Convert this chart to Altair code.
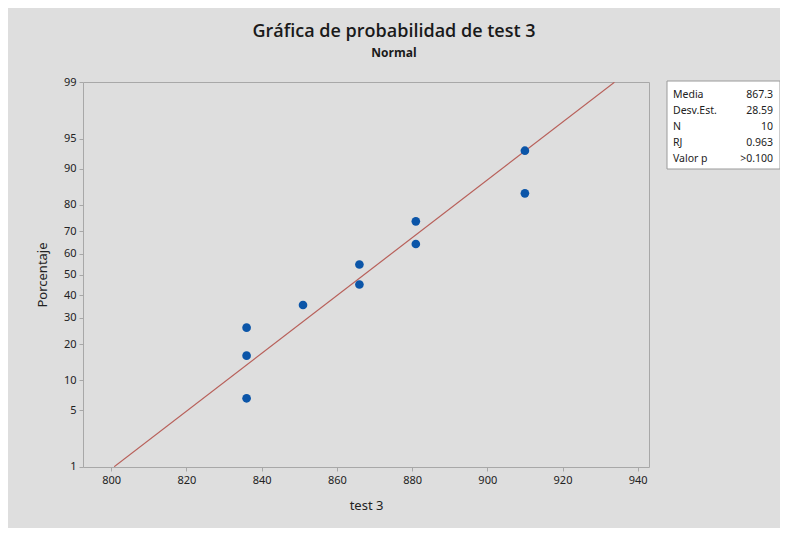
import altair as alt
import pandas as pd
from statistics import NormalDist

# ---- data ----
values = [836, 836, 836, 851, 866, 866, 881, 881, 910, 910]
percent = [6.7, 16.3, 26.0, 35.6, 45.2, 54.8, 64.4, 74.0, 83.7, 93.3]
fit_x = [800.8, 933.8]
fit_pct = [1, 99]
y_ticks = [1, 5, 10, 20, 30, 40, 50, 60, 70, 80, 90, 95, 99]
x_ticks = [800, 820, 840, 860, 880, 900, 920, 940]
stat_names = ["Media", "Desv.Est.", "N", "RJ", "Valor p"]
stat_values = ["867.3", "28.59", "10", "0.963", ">0.100"]

nd = NormalDist()
ytick_z = [nd.inv_cdf(p / 100) for p in y_ticks]
zmin, zmax = nd.inv_cdf(0.0099), nd.inv_cdf(0.9901)

pts = pd.DataFrame({"x": values, "p": percent})
fit = pd.DataFrame({"x": fit_x, "p": fit_pct})
box = pd.DataFrame({"names": ["\n".join(stat_names)], "vals": ["\n".join(stat_values)]})

FONT = "Noto Sans"
xscale = alt.Scale(domain=[792.5, 943], nice=False, zero=False)
yscale = alt.Scale(domain=[zmin, zmax], nice=False, zero=False)

xaxis = alt.Axis(values=x_ticks, tickCount=20, title="test 3", grid=False, domain=False,
                 tickColor="#a8a8a8", tickSize=4, labelPadding=3,
                 labelFont=FONT, labelFontSize=11, labelColor="#222222",
                 titleFont=FONT, titleFontSize=13, titleFontWeight="normal",
                 titleColor="#222222", titlePadding=14)
yaxis = alt.Axis(values=ytick_z, tickCount=30, title="Porcentaje", grid=False, domain=False,
                 labelExpr="format(cumulativeNormal(datum.value) * 100, '.0f')",
                 labelOverlap=False, labelBound=False,
                 tickColor="#a8a8a8", tickSize=4, labelPadding=3,
                 labelFont=FONT, labelFontSize=11, labelColor="#222222",
                 titleFont=FONT, titleFontSize=13, titleFontWeight="normal",
                 titleColor="#222222", titlePadding=14)

line = alt.Chart(fit).transform_calculate(
    z="quantileNormal(datum.p / 100)"
).mark_line(color="#b8605a", strokeWidth=1.2, clip=True).encode(
    x=alt.X("x:Q", scale=xscale, axis=xaxis),
    y=alt.Y("z:Q", scale=yscale, axis=yaxis),
)

points = alt.Chart(pts).transform_calculate(
    z="quantileNormal(datum.p / 100)"
).mark_circle(color="#0b55a8", opacity=1, size=75).encode(
    x=alt.X("x:Q", scale=xscale),
    y=alt.Y("z:Q", scale=yscale),
)

rect = alt.Chart(box).mark_rect(fill="white", stroke="#9a9a9a", strokeWidth=1).encode(
    x=alt.value(584), x2=alt.value(697), y=alt.value(-1), y2=alt.value(87)
)
names_txt = alt.Chart(box).mark_text(
    lineBreak="\n", align="left", baseline="top", lineHeight=16,
    font=FONT, fontSize=10.5, color="#222222"
).encode(x=alt.value(590), y=alt.value(8), text="names:N")
vals_txt = alt.Chart(box).mark_text(
    lineBreak="\n", align="right", baseline="top", lineHeight=16,
    font=FONT, fontSize=10.5, color="#222222"
).encode(x=alt.value(690), y=alt.value(8), text="vals:N")

chart = alt.layer(line, points, rect, names_txt, vals_txt).properties(
    width=566, height=385,
    title=alt.TitleParams(
        "Gráfica de probabilidad de test 3", subtitle="Normal",
        font="Open Sans", fontSize=18, fontWeight=600, color="#1a1a1a",
        subtitleFont="Open Sans", subtitleFontSize=12, subtitleFontWeight="bold",
        subtitleColor="#1a1a1a", subtitlePadding=7,
        anchor="middle", dx=28, offset=17,
    ),
    autosize=alt.AutoSizeParams(type="none"),
    padding={"left": 75, "top": 74, "right": 131, "bottom": 61},
    background="#dedede",
).configure_view(stroke="#a8a8a8", strokeWidth=1, fill="#dedede")

chart.save("out.html", embed_options={"renderer": "svg", "actions": False})
